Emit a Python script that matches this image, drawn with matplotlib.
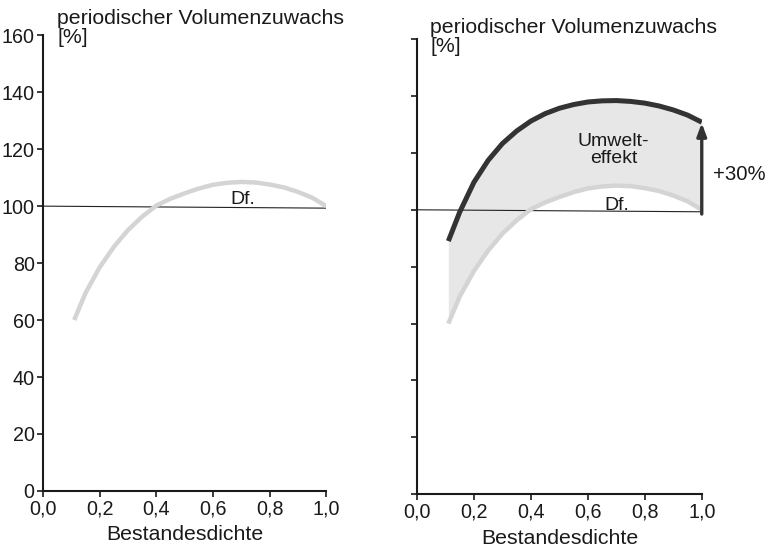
import matplotlib.pyplot as plt

plt.rcParams['font.family'] = ['Liberation Sans', 'DejaVu Sans']

# Werte
dichte = [0.11, 0.15, 0.2, 0.25, 0.3, 0.35, 0.4, 0.45, 0.5, 0.55,
          0.6, 0.65, 0.7, 0.75, 0.8, 0.85, 0.9, 0.95, 1.0]
zuwachs_df = [60, 69.5, 78.5, 85.7, 91.6, 96.3, 100.2, 102.6, 104.5, 106.2,
              107.5, 108.2, 108.5, 108.3, 107.6, 106.6, 105, 103, 100]
zuwachs_umwelt = [89, 99.2, 109.7, 117.4, 123.3, 127.7, 131.2, 133.8, 135.7, 137.0,
                  137.9, 138.3, 138.4, 138.1, 137.5, 136.5, 135.1, 133.3, 130.8]
referenz = [100, 99.3]
ref_x = [0.0, 1.0]

x_ticks = [0.0, 0.2, 0.4, 0.6, 0.8, 1.0]
x_labels = ['0,0', '0,2', '0,4', '0,6', '0,8', '1,0']
y_ticks = [0, 20, 40, 60, 80, 100, 120, 140, 160]

fig = plt.figure(figsize=(7.78, 5.51), dpi=100)
ax1 = fig.add_axes([0.0553, 0.109, 0.364, 0.827])
ax2 = fig.add_axes([0.536, 0.103, 0.366, 0.826])

for ax in (ax1, ax2):
    ax.set_xlim(0, 1.0)
    ax.set_ylim(0, 160)
    for s in ('top', 'right'):
        ax.spines[s].set_visible(False)
    for s in ('left', 'bottom'):
        ax.spines[s].set_linewidth(1.5)
        ax.spines[s].set_color('#1a1a1a')
    ax.set_xticks(x_ticks)
    ax.set_xticklabels(x_labels)
    ax.set_yticks(y_ticks)
    ax.tick_params(direction='out', length=4.5, width=1.2, color='#1a1a1a',
                   labelsize=14.2, labelcolor='#1a1a1a', pad=1.5)
    ax.plot(ref_x, referenz, color='#222222', lw=0.8, zorder=2)
    ax.plot(dichte, zuwachs_df, color='#d4d4d4', lw=3.2, solid_capstyle='butt', zorder=3)
    ax.set_xlabel('Bestandesdichte', fontsize=15.3, color='#1a1a1a', labelpad=5)

ax2.set_yticklabels([])

ax1.text(0.05, 1.057, 'periodischer Volumenzuwachs\n[%]', transform=ax1.transAxes,
         fontsize=15.3, color='#1a1a1a', ha='left', va='top', linespacing=1.0)
ax2.text(0.046, 1.046, 'periodischer Volumenzuwachs\n[%]', transform=ax2.transAxes,
         fontsize=15.3, color='#1a1a1a', ha='left', va='top', linespacing=1.0)

ax1.text(0.707, 102.2, 'Df.', fontsize=14, ha='center', va='center', color='#1a1a1a')
ax2.text(0.70, 101.6, 'Df.', fontsize=14, ha='center', va='center', color='#1a1a1a')

# Umwelteffekt
ax2.fill_between(dichte, zuwachs_df, zuwachs_umwelt, color='#e7e7e7', lw=0, zorder=1)
ax2.plot(dichte, zuwachs_umwelt, color='#333333', lw=3.6, solid_capstyle='butt', zorder=4)
ax2.text(0.69, 121, 'Umwelt-\neffekt', fontsize=14, ha='center', va='center',
         color='#1a1a1a', linespacing=1.0)
ax2.annotate('', xy=(1.0, 130.5), xytext=(1.0, 98.5),
             arrowprops=dict(arrowstyle='-|>,head_length=0.75,head_width=0.28',
                             color='#333333', lw=2.4, shrinkA=0, shrinkB=0), zorder=5)
ax2.text(1.04, 112.3, '+30%', fontsize=14.7, ha='left', va='center', color='#1a1a1a')

fig.savefig('out.png', dpi=100)
